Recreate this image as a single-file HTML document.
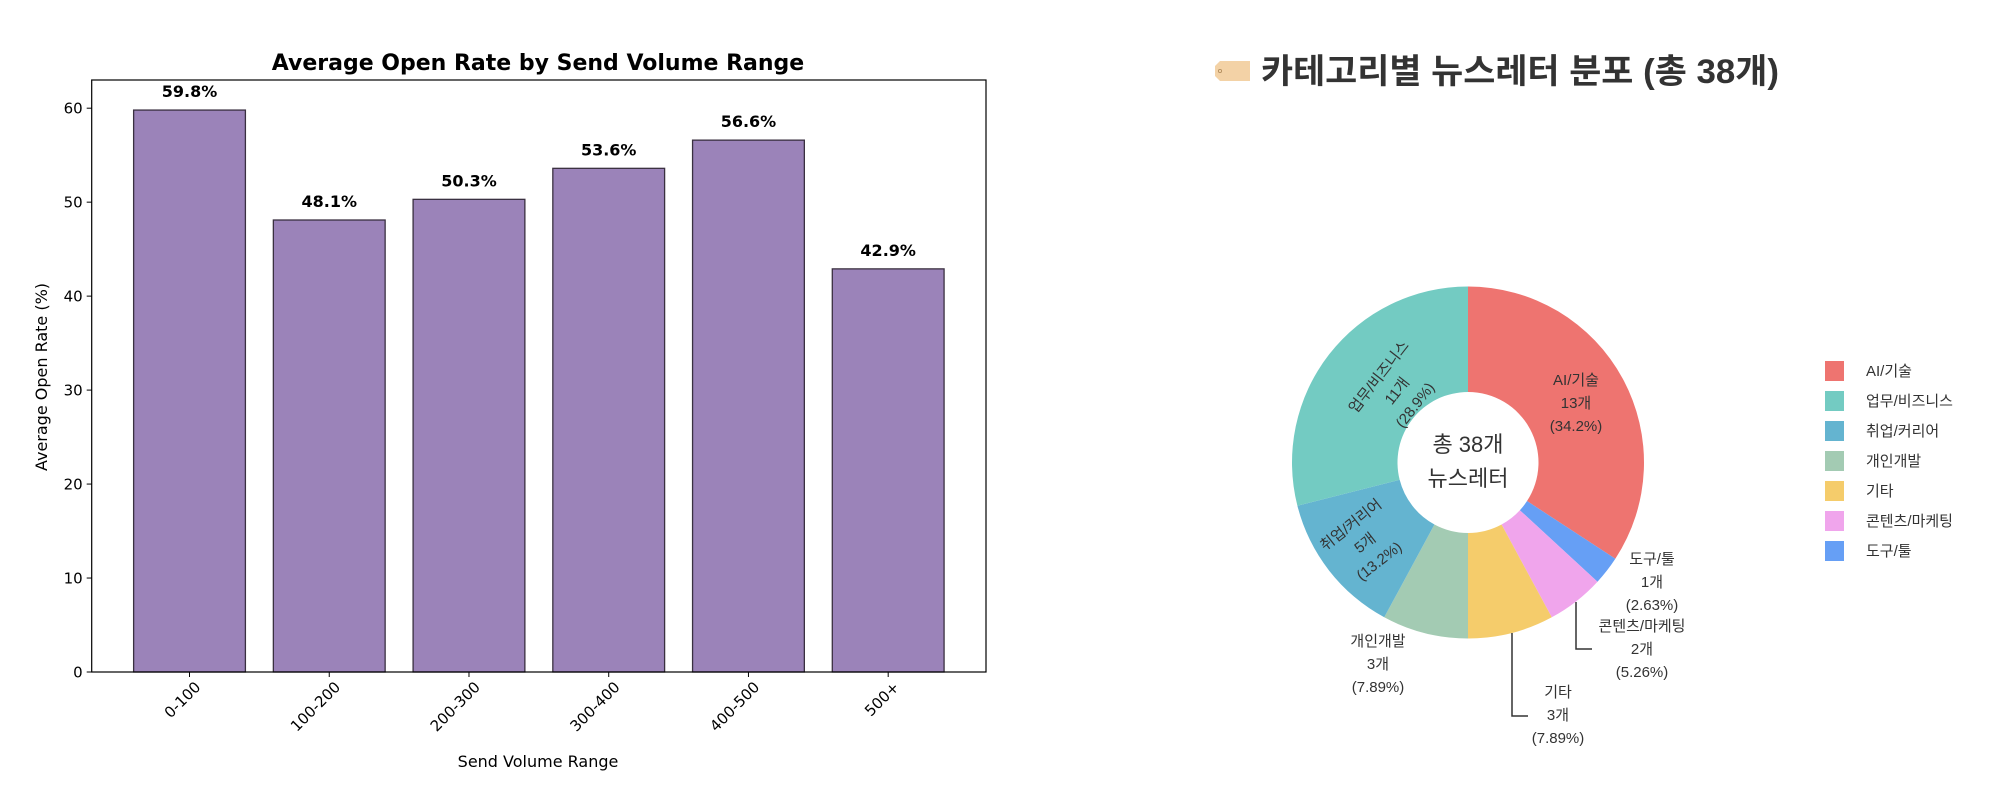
<!DOCTYPE html>
<html><head><meta charset="utf-8"><style>
html,body{margin:0;padding:0;background:#fff;}
svg{display:block;}
text{font-family:"DejaVu Sans","Liberation Sans",sans-serif;}
.kr{font-family:"Liberation Sans","Noto Sans CJK KR",sans-serif;}
</style></head><body>
<svg id="root" width="2010" height="806" viewBox="0 0 2010 806" xmlns="http://www.w3.org/2000/svg">
<g id="bar"></g>
<g id="pie"></g>
</svg>
<script>
const categories = ["0-100","100-200","200-300","300-400","400-500","500+"];
const openRates = [59.8,48.1,50.3,53.6,56.6,42.9];
const yTicks = [0,10,20,30,40,50,60];
const pieLabels = ["AI/기술","도구/툴","콘텐츠/마케팅","기타","개인개발","취업/커리어","업무/비즈니스"];
const pieCounts = [13,1,2,3,3,5,11];
const legendLabels = ["AI/기술","업무/비즈니스","취업/커리어","개인개발","기타","콘텐츠/마케팅","도구/툴"];

const NS="http://www.w3.org/2000/svg";
function mk(tag,attrs,parent,txt){const e=document.createElementNS(NS,tag);for(const k in attrs)e.setAttribute(k,attrs[k]);if(txt!==undefined)e.textContent=txt;parent.appendChild(e);return e;}

// ---- bar chart ----
const bar=document.getElementById('bar');
const L=91.7,R=986,T=80,B=672,YMAX=63;
const step=(R-L)/(categories.length+0.4);
const xs=i=>L+(i+0.7)*step;
const ys=v=>B-v/YMAX*(B-T);
let t=mk('text',{x:538,y:70,'text-anchor':'middle','font-size':22,'font-weight':'bold',fill:'#000'},bar,'Average Open Rate by Send Volume Range');


categories.forEach((c,i)=>{
  const w=step*0.8,v=openRates[i];
  const r=mk('rect',{x:xs(i)-w/2,y:ys(v),width:w,height:B-ys(v),fill:'#9b83b9',stroke:'#3a3040','stroke-width':1.3},bar);
  
  
  const lb=mk('text',{x:xs(i),y:ys(v)-13,'text-anchor':'middle','font-size':16,'font-weight':'bold',fill:'#000'},bar,v.toFixed(1)+'%');
  
  
  mk('line',{x1:xs(i),x2:xs(i),y1:B,y2:B+5,stroke:'#000','stroke-width':1},bar);
  const tl=mk('text',{x:xs(i)+12,y:688,'text-anchor':'end','font-size':15,fill:'#000',transform:`rotate(-45 ${xs(i)+12} 688)`},bar,c);
  
  
});
yTicks.forEach(v=>{
  mk('line',{x1:L-5,x2:L,y1:ys(v),y2:ys(v),stroke:'#000','stroke-width':1},bar);
  const tl=mk('text',{x:L-9,y:ys(v)+5.5,'text-anchor':'end','font-size':15,fill:'#000'},bar,v);
  
  
});
const frame=mk('rect',{x:L,y:T,width:R-L,height:B-T,fill:'none',stroke:'#000','stroke-width':1.2},bar);


t=mk('text',{x:538,y:767,'text-anchor':'middle','font-size':16,fill:'#000'},bar,'Send Volume Range');


t=mk('text',{x:47,y:377,'text-anchor':'middle','font-size':16,fill:'#000',transform:'rotate(-90 47 377)'},bar,'Average Open Rate (%)');



// ---- donut ----
const pie=document.getElementById('pie');
const colors={"AI/기술":"#ee7470","업무/비즈니스":"#73cbc2","취업/커리어":"#64b4d0","개인개발":"#a3cbb3","기타":"#f5cc6b","콘텐츠/마케팅":"#f0a5ec","도구/툴":"#669ff5"};
const CX=1468,CY=462.5,RO=176,RI=70.5;
const total=pieCounts.reduce((a,b)=>a+b,0);
const pt=(a,r)=>[CX+r*Math.sin(a),CY-r*Math.cos(a)];
const ic=mk('path',{d:'M1220 61 H1250 V81 H1220 L1215 76 V66 Z',fill:'#f3d2a6'},pie);


mk('circle',{cx:1220,cy:71,r:1.6,fill:'none',stroke:'#b08a5a','stroke-width':0.8},pie);
t=mk('text',{class:'kr',x:1261,y:83,'font-size':34,'font-weight':'bold',fill:'#333',textLength:518,lengthAdjust:'spacingAndGlyphs'},pie,'카테고리별 뉴스레터 분포 (총 38개)');


let acc=0;
pieCounts.forEach((n,i)=>{
  const a0=acc/total*2*Math.PI; acc+=n; const a1=acc/total*2*Math.PI;
  const large=(a1-a0)>Math.PI?1:0;
  const [x0,y0]=pt(a0,RO),[x1,y1]=pt(a1,RO),[x2,y2]=pt(a1,RI),[x3,y3]=pt(a0,RI);
  const p=mk('path',{d:`M${x0} ${y0} A${RO} ${RO} 0 ${large} 1 ${x1} ${y1} L${x2} ${y2} A${RI} ${RI} 0 ${large} 0 ${x3} ${y3} Z`,fill:colors[pieLabels[i]]},pie);
  
  
});
function pct(n){const p=n/total*100;return p<10?p.toFixed(2):p.toFixed(1);}
const labelPos={
 "AI/기술":{x:1576,y:380,rot:0},
 "업무/비즈니스":{x:1397,y:368,rot:-52},
 "취업/커리어":{x:1365,y:520,rot:-38},
 "도구/툴":{x:1652,y:559,rot:0},
 "콘텐츠/마케팅":{x:1642,y:626,rot:0},
 "기타":{x:1558,y:692,rot:0},
 "개인개발":{x:1378,y:641,rot:0}
};
pieLabels.forEach((lab,i)=>{
  const lp=labelPos[lab];
  const lines=[lab,pieCounts[i]+'개','('+pct(pieCounts[i])+'%)'];
  const g=mk('g',{transform:lp.rot?`rotate(${lp.rot} ${lp.x} ${lp.y+23})`:''},pie);
  
  
  lines.forEach((s,k)=>mk('text',{class:'kr',x:lp.x,y:lp.y+k*23+5,'text-anchor':'middle','font-size':15,fill:'#333'},g,s));
});
mk('path',{d:'M1576 602 V649 H1592',fill:'none',stroke:'#333','stroke-width':1.5},pie);
mk('path',{d:'M1512 633 V716 H1528',fill:'none',stroke:'#333','stroke-width':1.5},pie);
t=mk('text',{class:'kr',x:CX,y:452,'text-anchor':'middle','font-size':22,fill:'#333'},pie,'총 38개');


t=mk('text',{class:'kr',x:CX,y:486,'text-anchor':'middle','font-size':22,fill:'#333'},pie,'뉴스레터');


legendLabels.forEach((lab,k)=>{
  const g=mk('g',{},pie);
  
  
  const cy=371+k*30;
  mk('rect',{x:1825,y:cy-10,width:19,height:20,fill:colors[lab]},g);
  mk('text',{class:'kr',x:1866,y:cy+5,'font-size':15,fill:'#333'},g,lab);
});
</script>
</body></html>
